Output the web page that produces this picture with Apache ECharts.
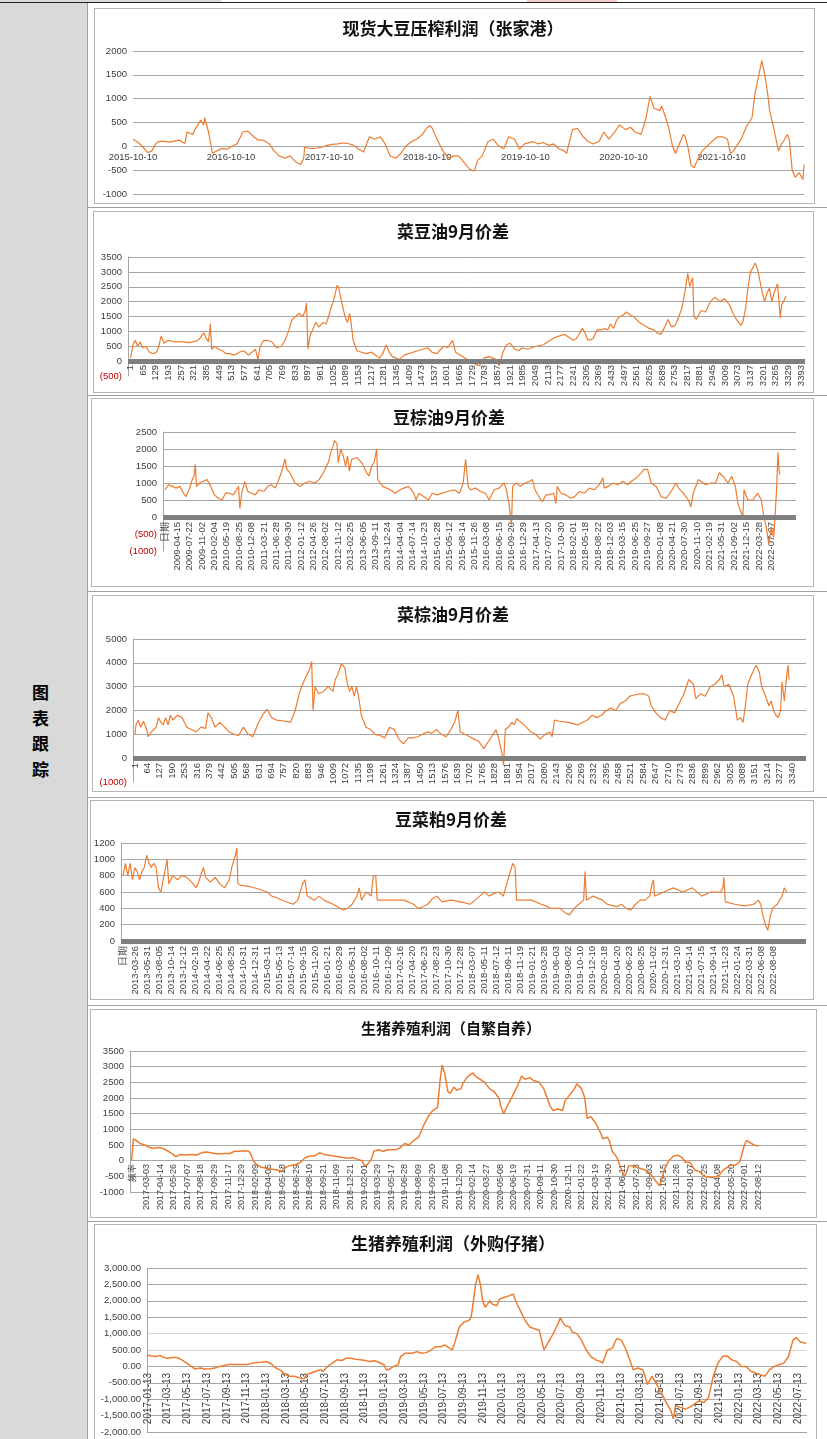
<!DOCTYPE html>
<html>
<head>
<meta charset="utf-8">
<script src="https://cdn.jsdelivr.net/npm/echarts@6/dist/echarts.min.js"></script>
<style>
html,body{margin:0;padding:0;background:#fff;}
#page{position:relative;width:827px;height:1439px;overflow:hidden;background:#fff;}
.abs{position:absolute;}
.side{left:0;top:3px;width:87px;height:1436px;background:#d9d9d9;}
.vline{left:87px;top:3px;width:1px;height:1436px;background:#a0a0a0;}
.hsep{left:87px;width:740px;height:1px;background:#a0a0a0;}
.box{border:1px solid #b4b4b4;background:#fff;box-sizing:border-box;}
.sidetext{left:32px;top:679px;width:17px;font:bold 17px "Noto Sans CJK SC";line-height:25.5px;word-break:break-all;color:#000;text-align:center;}
#chart{position:absolute;left:0;top:0;width:827px;height:1439px;}
</style>
</head>
<body>
<div id="page">
  <div class="abs" style="left:0;top:0;width:221px;height:2px;background:#d9d9d9;"></div>
  <div class="abs" style="left:527px;top:0;width:90px;height:2px;background:#f4cccc;"></div>
  <div class="abs" style="left:0;top:2px;width:827px;height:1px;background:#222;"></div>
  <div class="abs side"></div>
  <div class="abs vline"></div>
  <div class="abs sidetext">图表跟踪</div>
  <div class="abs box" style="left:94px;top:8px;width:721px;height:196px;"></div>
  <div class="abs hsep" style="top:207px;"></div>
  <div class="abs box" style="left:93px;top:211px;width:721px;height:182px;"></div>
  <div class="abs hsep" style="top:395px;"></div>
  <div class="abs box" style="left:91px;top:398px;width:723px;height:189px;"></div>
  <div class="abs hsep" style="top:591px;"></div>
  <div class="abs box" style="left:92px;top:595px;width:722px;height:197px;"></div>
  <div class="abs hsep" style="top:797px;"></div>
  <div class="abs box" style="left:90px;top:800px;width:724px;height:200px;"></div>
  <div class="abs hsep" style="top:1005px;"></div>
  <div class="abs box" style="left:90px;top:1009px;width:727px;height:209px;"></div>
  <div class="abs hsep" style="top:1221px;"></div>
  <div class="abs box" style="left:94px;top:1224px;width:723px;height:220px;"></div>
  <div id="chart"></div>
</div>
<script>
// ---------- titles ----------
const titles = ['现货大豆压榨利润（张家港）','菜豆油9月价差','豆棕油9月价差','菜棕油9月价差','豆菜粕9月价差','生猪养殖利润（自繁自养）','生猪养殖利润（外购仔猪）'];

// ---------- tick labels ----------
const c1Ticks = ['2015-10-10','2016-10-10','2017-10-10','2018-10-10','2019-10-10','2020-10-10','2021-10-10'];
const c2Ticks = [1,65,129,193,257,321,385,449,513,577,641,705,769,833,897,961,1025,1089,1153,1217,1281,1345,1409,1473,1537,1601,1665,1729,1793,1857,1921,1985,2049,2113,2177,2241,2305,2369,2433,2497,2561,2625,2689,2753,2817,2881,2945,3009,3073,3137,3201,3265,3329,3393];
const c3Ticks = ['日期','2009-04-15','2009-07-22','2009-11-02','2010-02-04','2010-05-19','2010-08-25','2010-12-08','2011-03-21','2011-06-28','2011-09-30','2012-01-12','2012-04-26','2012-08-02','2012-11-12','2013-02-25','2013-06-05','2013-09-11','2013-12-24','2014-04-04','2014-07-14','2014-10-23','2015-01-28','2015-05-12','2015-08-14','2015-11-26','2016-03-08','2016-06-15','2016-09-20','2016-12-29','2017-04-13','2017-07-20','2017-10-30','2018-02-01','2018-05-18','2018-08-22','2018-12-03','2019-03-15','2019-06-25','2019-09-27','2020-01-08','2020-04-21','2020-07-30','2020-11-10','2021-02-19','2021-05-31','2021-09-02','2021-12-15','2022-03-28','2022-07-07'];
const c4Ticks = [1,64,127,190,253,316,379,442,505,568,631,694,757,820,883,946,1009,1072,1135,1198,1261,1324,1387,1450,1513,1576,1639,1702,1765,1828,1891,1954,2017,2080,2143,2206,2269,2332,2395,2458,2521,2584,2647,2710,2773,2836,2899,2962,3025,3088,3151,3214,3277,3340];
const c5Ticks = ['日期','2013-03-26','2013-05-31','2013-08-05','2013-10-14','2013-12-12','2014-02-19','2014-04-22','2014-06-25','2014-08-25','2014-10-31','2014-12-31','2015-03-11','2015-05-13','2015-07-14','2015-09-15','2015-11-20','2016-01-21','2016-03-29','2016-05-31','2016-08-02','2016-10-11','2016-12-09','2017-02-16','2017-04-20','2017-06-23','2017-08-23','2017-10-30','2017-12-28','2018-03-07','2018-05-11','2018-07-12','2018-09-11','2018-11-19','2019-01-21','2019-03-28','2019-06-03','2019-08-02','2019-10-10','2019-12-10','2020-02-18','2020-04-20','2020-06-23','2020-08-25','2020-11-02','2020-12-31','2021-03-10','2021-05-14','2021-07-15','2021-09-14','2021-11-23','2022-01-24','2022-03-31','2022-06-08','2022-08-08'];
const c6Ticks = ['频率','2017-03-03','2017-04-14','2017-05-26','2017-07-07','2017-08-18','2017-09-29','2017-11-17','2017-12-29','2018-02-09','2018-04-05','2018-05-18','2018-06-29','2018-08-10','2018-09-21','2018-11-09','2018-12-21','2019-02-01','2019-03-29','2019-05-17','2019-06-28','2019-08-09','2019-09-20','2019-11-08','2019-12-20','2020-02-14','2020-03-27','2020-05-08','2020-06-19','2020-07-31','2020-09-11','2020-10-30','2020-12-11','2021-01-22','2021-03-19','2021-04-30','2021-06-11','2021-07-23','2021-09-03','2021-10-15','2021-11-26','2022-01-07','2022-02-25','2022-04-08','2022-05-20','2022-07-01','2022-08-12'];
const c7Ticks = ['2017-01-13','2017-03-13','2017-05-13','2017-07-13','2017-09-13','2017-11-13','2018-01-13','2018-03-13','2018-05-13','2018-07-13','2018-09-13','2018-11-13','2019-01-13','2019-03-13','2019-05-13','2019-07-13','2019-09-13','2019-11-13','2020-01-13','2020-03-13','2020-05-13','2020-07-13','2020-09-13','2020-11-13','2021-01-13','2021-03-13','2021-05-13','2021-07-13','2021-09-13','2021-11-13','2022-01-13','2022-03-13','2022-05-13','2022-07-13'];

// ---------- series values: [x position in axis units, value] ----------
// chart 1: x = years after 2015-10-10
const c1Data = [[0,150],[0.054,80],[0.108,-30],[0.15,-130],[0.19,-100],[0.23,50],[0.26,100],[0.31,110],[0.37,90],[0.42,110],[0.47,130],[0.53,60],[0.55,300],[0.61,250],[0.63,350],[0.69,550],[0.72,450],[0.73,600],[0.77,300],[0.81,-150],[0.85,-100],[0.9,-50],[0.96,-60],[1.01,0],[1.06,50],[1.12,300],[1.17,320],[1.23,200],[1.28,130],[1.33,130],[1.39,50],[1.44,-100],[1.49,-200],[1.55,-250],[1.6,-200],[1.66,-330],[1.71,-380],[1.74,-250],[1.75,-20],[1.82,-50],[1.87,-40],[1.92,-20],[1.98,20],[2.03,40],[2.09,50],[2.14,70],[2.19,60],[2.25,20],[2.3,-60],[2.35,-120],[2.41,200],[2.46,150],[2.52,200],[2.57,50],[2.62,-200],[2.68,-250],[2.73,-150],[2.78,0],[2.84,100],[2.89,150],[2.95,250],[3.0,400],[3.03,430],[3.05,380],[3.11,100],[3.16,-100],[3.22,-250],[3.27,-200],[3.32,-200],[3.38,-350],[3.43,-480],[3.48,-520],[3.51,-300],[3.56,-200],[3.62,100],[3.67,150],[3.73,0],[3.78,-50],[3.83,200],[3.89,150],[3.94,-60],[3.99,50],[4.08,100],[4.13,50],[4.18,80],[4.24,20],[4.29,50],[4.34,-50],[4.4,-100],[4.42,-150],[4.48,350],[4.53,380],[4.59,200],[4.64,100],[4.69,50],[4.75,100],[4.8,300],[4.85,150],[4.91,300],[4.96,450],[5.02,350],[5.07,400],[5.12,300],[5.18,250],[5.23,600],[5.27,1050],[5.31,800],[5.37,750],[5.39,850],[5.43,600],[5.46,400],[5.5,0],[5.53,-150],[5.58,100],[5.61,250],[5.63,200],[5.66,-50],[5.69,-400],[5.72,-450],[5.74,-350],[5.8,-100],[5.85,0],[5.9,100],[5.96,200],[6.01,200],[6.06,150],[6.09,-150],[6.12,-100],[6.15,0],[6.2,150],[6.25,400],[6.31,600],[6.34,1100],[6.38,1500],[6.41,1800],[6.44,1500],[6.47,1100],[6.49,750],[6.53,400],[6.55,200],[6.58,-100],[6.61,50],[6.63,100],[6.67,250],[6.69,150],[6.71,-300],[6.72,-500],[6.75,-650],[6.79,-550],[6.83,-700],[6.84,-380]];
// chart 2: x = row index
const c2Data = [[1,100],[13,550],[25,700],[37,500],[49,650],[61,450],[78,500],[96,300],[114,250],[132,300],[144,500],[156,850],[170,600],[192,700],[220,650],[263,650],[300,620],[335,680],[350,750],[371,950],[385,750],[395,650],[405,1250],[411,400],[426,500],[446,400],[466,350],[484,250],[502,250],[526,200],[550,300],[575,350],[597,200],[615,300],[633,400],[645,50],[657,500],[675,700],[693,700],[715,650],[740,450],[764,500],[782,700],[800,1000],[818,1400],[836,1500],[854,1600],[872,1500],[885,1700],[891,1950],[898,400],[910,900],[919,1000],[937,1300],[955,1150],[975,1300],[990,1250],[1003,1500],[1015,1800],[1027,2000],[1046,2550],[1055,2450],[1062,2200],[1075,1800],[1086,1500],[1098,1300],[1110,1600],[1118,1200],[1127,700],[1146,350],[1170,300],[1194,250],[1220,300],[1241,200],[1260,100],[1277,250],[1294,550],[1310,300],[1325,150],[1345,100],[1360,50],[1385,200],[1408,250],[1430,300],[1456,350],[1480,400],[1504,450],[1525,300],[1551,250],[1570,400],[1587,500],[1605,450],[1630,700],[1645,300],[1670,200],[1695,100],[1718,0],[1742,-100],[1766,-150],[1790,100],[1814,150],[1835,100],[1849,50],[1866,-150],[1885,300],[1903,550],[1921,600],[1945,400],[1965,350],[1981,450],[2010,400],[2052,500],[2090,550],[2124,700],[2150,800],[2171,850],[2195,900],[2219,800],[2240,700],[2255,750],[2270,900],[2286,1100],[2300,950],[2315,700],[2340,750],[2362,1050],[2385,1050],[2398,1100],[2415,1050],[2429,1250],[2445,1100],[2458,1350],[2475,1500],[2493,1550],[2510,1650],[2529,1550],[2545,1500],[2553,1450],[2575,1300],[2601,1200],[2625,1100],[2648,1050],[2665,950],[2684,900],[2700,1100],[2720,1400],[2738,1150],[2756,1200],[2775,1500],[2791,1800],[2805,2300],[2820,2950],[2830,2500],[2839,2700],[2845,2800],[2851,1500],[2863,1400],[2887,1700],[2910,1650],[2934,2000],[2958,2150],[2982,2000],[3005,2100],[3030,1900],[3050,1600],[3066,1400],[3089,1200],[3100,1350],[3113,1800],[3125,2500],[3137,3000],[3150,3150],[3161,3300],[3173,3100],[3185,2700],[3197,2300],[3209,2000],[3221,2300],[3233,2450],[3245,2000],[3257,2300],[3274,2600],[3288,1450],[3295,1900],[3305,2000],[3316,2200]];
// chart 3: x = tick-label slot
const c3Data = [[0,800],[0.3,950],[0.6,900],[0.9,850],[1.2,900],[1.5,700],[1.7,600],[2.0,850],[2.2,1100],[2.35,1200],[2.45,1550],[2.55,900],[2.8,1000],[3.1,1050],[3.4,1100],[3.7,900],[4.0,650],[4.3,550],[4.6,500],[4.9,700],[5.2,700],[5.5,650],[5.8,800],[5.95,900],[6.05,250],[6.2,700],[6.45,1050],[6.7,750],[7.0,700],[7.3,650],[7.6,800],[8.0,750],[8.3,900],[8.6,950],[8.9,850],[9.1,1000],[9.4,1300],[9.55,1500],[9.7,1700],[9.85,1400],[10.1,1300],[10.5,1000],[10.9,900],[11.3,1000],[11.7,1050],[12.1,1000],[12.45,1100],[12.8,1300],[13.2,1600],[13.4,1900],[13.6,2100],[13.7,2250],[13.9,2150],[14.0,1600],[14.2,2000],[14.4,1800],[14.6,1500],[14.75,1800],[14.9,1350],[15.1,1700],[15.5,1750],[15.9,1600],[16.3,1300],[16.5,1200],[16.7,1500],[16.9,1600],[17.1,2000],[17.2,1100],[17.6,900],[18.2,800],[18.6,700],[19.0,800],[19.3,850],[19.7,900],[20.1,700],[20.3,500],[20.5,700],[20.9,600],[21.3,500],[21.6,700],[22.0,650],[22.8,750],[23.4,800],[23.8,700],[24.1,1000],[24.3,1700],[24.5,900],[24.7,800],[25.1,850],[25.5,750],[25.9,700],[26.2,500],[26.6,800],[27.0,850],[27.4,1000],[27.6,800],[27.8,400],[28.0,-250],[28.1,900],[28.4,1000],[28.7,900],[29.1,1000],[29.5,1050],[29.7,1100],[29.9,800],[30.3,550],[30.5,450],[30.8,650],[31.0,650],[31.4,700],[31.6,400],[31.7,900],[32.0,700],[32.4,650],[32.8,550],[33.1,600],[33.5,750],[33.9,700],[34.3,850],[34.7,800],[35.1,950],[35.4,1150],[35.5,850],[35.8,900],[36.2,1000],[36.6,950],[37.0,1050],[37.4,950],[37.7,1050],[38.1,1150],[38.5,1300],[38.7,1400],[39.0,1400],[39.3,1000],[39.7,900],[40.1,600],[40.5,550],[40.9,750],[41.3,1000],[41.5,850],[41.9,700],[42.3,500],[42.5,300],[42.7,700],[43.1,1100],[43.3,1050],[43.7,950],[44.1,1000],[44.5,1000],[44.8,1300],[45.1,1200],[45.5,1000],[45.8,1200],[46.1,900],[46.3,400],[46.5,200],[46.7,0],[46.8,800],[47.1,500],[47.5,500],[47.9,700],[48.2,500],[48.4,0],[48.6,-300],[48.8,-800],[49.0,-300],[49.2,-600],[49.3,0],[49.4,600],[49.45,1000],[49.5,1500],[49.55,1900],[49.62,1400],[49.7,1250]];
// chart 4: x = row index
const c4Data = [[1,1000],[6,1400],[18,1600],[30,1300],[44,1550],[61,1200],[68,900],[85,1100],[109,1300],[121,1700],[133,1500],[145,1400],[157,1700],[169,1400],[181,1800],[193,1600],[217,1800],[241,1700],[264,1300],[288,1200],[312,1100],[336,1300],[360,1250],[372,1900],[389,1700],[408,1300],[432,1500],[456,1300],[480,1100],[504,1000],[528,950],[552,1300],[576,1000],[600,900],[624,1400],[648,1800],[672,2050],[696,1700],[720,1600],[767,1550],[791,1500],[815,2000],[839,2800],[863,3300],[887,3700],[899,4050],[906,2000],[916,3000],[935,2700],[959,2800],[983,3000],[1007,2800],[1019,3300],[1031,3500],[1050,3950],[1067,3800],[1079,3200],[1091,2800],[1103,3000],[1115,2600],[1127,3000],[1139,2500],[1151,1800],[1175,1300],[1199,1200],[1222,1000],[1246,950],[1270,850],[1294,1300],[1318,1200],[1342,800],[1366,600],[1390,850],[1414,850],[1438,900],[1462,1000],[1486,1100],[1510,1050],[1534,1200],[1558,1000],[1582,900],[1606,1200],[1625,1500],[1642,2000],[1654,1100],[1678,1000],[1702,900],[1725,800],[1749,700],[1773,400],[1797,700],[1821,1000],[1836,1200],[1850,800],[1864,300],[1874,-300],[1883,1200],[1898,1300],[1917,1500],[1929,1400],[1941,1650],[1965,1500],[1989,1300],[2013,1100],[2037,1000],[2061,800],[2085,1000],[2109,1100],[2121,900],[2133,1600],[2157,1550],[2204,1500],[2252,1400],[2300,1600],[2324,1800],[2348,1700],[2372,1800],[2396,2000],[2420,2100],[2444,2000],[2468,2300],[2492,2400],[2516,2600],[2540,2650],[2564,2700],[2588,2700],[2612,2600],[2624,2200],[2648,1900],[2671,1700],[2695,1600],[2719,2000],[2743,1900],[2767,2300],[2791,2700],[2815,3300],[2839,3100],[2851,2500],[2875,2700],[2899,2600],[2923,3000],[2947,3100],[2971,3300],[2983,3500],[2995,3000],[3019,3100],[3043,2600],[3062,1600],[3079,1700],[3091,1500],[3103,2200],[3115,3100],[3134,3500],[3158,3900],[3174,3600],[3186,3000],[3210,2500],[3222,2200],[3234,2400],[3246,2000],[3258,1800],[3270,1700],[3282,2000],[3289,3200],[3301,2400],[3313,3500],[3320,3900],[3325,3300]];
// chart 5: x = tick-label slot
const c5Data = [[0,800],[0.2,950],[0.39,800],[0.59,950],[0.78,750],[0.98,900],[1.18,850],[1.37,750],[1.57,850],[1.76,900],[1.96,1050],[2.16,950],[2.35,900],[2.55,950],[2.75,900],[2.94,650],[3.14,600],[3.33,750],[3.53,900],[3.65,1000],[3.8,700],[4.12,800],[4.51,750],[4.9,800],[5.29,780],[5.69,720],[6.08,650],[6.27,720],[6.67,900],[6.86,780],[7.25,720],[7.65,780],[8.04,700],[8.43,650],[8.82,750],[9.02,900],[9.22,1000],[9.33,1050],[9.45,1140],[9.53,700],[9.8,680],[10.39,670],[11.18,640],[11.96,600],[12.35,550],[12.75,530],[13.53,480],[14.12,450],[14.51,500],[14.9,700],[15.1,750],[15.29,550],[15.88,500],[16.27,550],[16.67,500],[17.45,450],[18.24,380],[18.63,400],[19.02,450],[19.41,550],[19.61,650],[19.8,500],[20.2,600],[20.59,550],[20.78,800],[20.98,800],[21.1,500],[21.76,500],[22.55,500],[23.33,500],[24.12,450],[24.51,400],[24.9,420],[25.29,450],[25.69,520],[26.08,550],[26.47,480],[27.25,500],[28.04,480],[28.82,450],[29.22,500],[29.61,550],[30.0,600],[30.39,550],[30.78,580],[31.18,600],[31.57,550],[31.96,750],[32.35,950],[32.55,900],[32.67,500],[33.14,500],[33.92,500],[34.71,450],[35.1,430],[35.49,400],[36.27,400],[36.67,350],[37.06,320],[37.45,400],[37.84,450],[38.24,500],[38.35,850],[38.47,500],[39.02,550],[39.8,500],[40.2,450],[40.98,420],[41.37,450],[41.76,400],[42.16,380],[42.55,450],[42.94,500],[43.33,500],[43.73,550],[43.92,700],[44.04,750],[44.12,550],[44.9,600],[45.69,650],[46.47,600],[47.25,650],[48.04,550],[48.82,600],[49.61,600],[49.8,650],[49.88,780],[50.0,480],[50.78,450],[51.57,430],[52.35,450],[52.75,500],[52.94,450],[53.14,300],[53.33,200],[53.53,130],[53.73,300],[53.92,400],[54.31,450],[54.71,550],[54.9,650],[55.1,600]];
// chart 6: x = tick-label slot
const c6Data = [[-0.1,0],[0.03,700],[0.17,650],[0.52,550],[0.87,500],[1.22,420],[1.56,400],[1.91,420],[2.26,380],[2.6,300],[2.95,200],[3.13,130],[3.3,150],[3.47,200],[3.99,180],[4.34,200],[4.69,180],[5.03,250],[5.38,280],[5.73,250],[6.08,220],[6.42,220],[6.77,230],[7.12,230],[7.47,300],[7.81,300],[8.16,320],[8.51,300],[8.68,200],[8.85,0],[9.03,-100],[9.38,-200],[9.9,-250],[10.59,-300],[10.94,-330],[11.28,-200],[11.63,-150],[11.98,-130],[12.33,-50],[12.67,100],[13.02,150],[13.37,150],[13.72,250],[14.06,200],[14.76,150],[15.45,100],[15.8,80],[16.15,100],[16.49,50],[16.84,0],[17.01,-150],[17.19,-150],[17.36,-50],[17.53,50],[17.71,300],[18.06,350],[18.4,300],[18.75,350],[19.27,350],[19.62,400],[19.97,550],[20.31,500],[20.66,650],[21.01,750],[21.35,1100],[21.7,1400],[22.05,1600],[22.4,1700],[22.57,2500],[22.74,3050],[22.92,2800],[23.16,2200],[23.33,2150],[23.61,2350],[23.78,2250],[24.13,2300],[24.31,2500],[24.65,2700],[25.0,2800],[25.17,2700],[25.52,2600],[25.87,2500],[26.22,2300],[26.56,2200],[26.91,2000],[27.08,1700],[27.26,1500],[27.6,1800],[27.95,2100],[28.3,2400],[28.58,2700],[28.82,2600],[29.17,2650],[29.51,2550],[29.86,2500],[30.21,2300],[30.38,2100],[30.66,1750],[30.9,1600],[31.25,1650],[31.6,1600],[31.77,1900],[32.12,2100],[32.47,2300],[32.64,2450],[32.99,2300],[33.23,2000],[33.4,1350],[33.68,1400],[34.03,1200],[34.38,900],[34.55,700],[34.9,750],[35.07,600],[35.24,300],[35.42,200],[35.59,100],[35.94,-300],[36.15,-500],[36.28,-400],[36.46,-150],[36.81,-180],[37.33,-250],[37.67,-300],[38.02,-400],[38.37,-600],[38.72,-800],[38.89,-600],[39.06,-300],[39.41,0],[39.76,150],[40.1,170],[40.38,100],[40.63,-50],[40.97,-50],[41.32,-300],[41.67,-350],[42.01,-500],[42.53,-540],[43.06,-500],[43.4,-300],[43.92,-150],[44.27,-150],[44.62,-50],[44.97,500],[45.14,650],[45.31,600],[45.66,500],[46.01,470]];
// chart 7: x = tick-label slot
const c7Data = [[-0.05,350],[0.17,320],[0.41,300],[0.64,330],[0.76,280],[1.0,250],[1.24,270],[1.48,270],[1.72,200],[1.96,100],[2.2,0],[2.39,-80],[2.67,-50],[2.91,-80],[3.15,-70],[3.39,-50],[3.63,0],[3.87,30],[4.1,60],[4.58,60],[5.06,60],[5.3,100],[5.54,120],[5.78,130],[6.01,150],[6.25,80],[6.49,-50],[6.73,-120],[6.97,-250],[7.21,-300],[7.45,-300],[7.68,-350],[7.92,-380],[8.04,-250],[8.28,-200],[8.52,-150],[8.76,-100],[8.88,-150],[9.12,0],[9.36,100],[9.59,200],[9.83,180],[10.07,250],[10.31,250],[10.55,220],[10.79,200],[11.03,180],[11.26,150],[11.5,170],[11.74,120],[11.98,50],[12.1,-100],[12.22,-100],[12.46,0],[12.7,50],[12.82,300],[13.05,400],[13.41,400],[13.65,450],[13.89,400],[14.13,420],[14.37,500],[14.61,600],[14.84,600],[15.08,650],[15.32,550],[15.44,500],[15.56,700],[15.8,1200],[16.04,1350],[16.28,1400],[16.4,1500],[16.52,2000],[16.63,2500],[16.75,2800],[16.87,2500],[16.99,2000],[17.11,1800],[17.23,1900],[17.35,2000],[17.47,1900],[17.71,1850],[17.83,2050],[18.07,2100],[18.31,2150],[18.54,2200],[18.66,2000],[18.9,1700],[19.14,1400],[19.38,1200],[19.62,1150],[19.86,1100],[19.98,800],[20.1,500],[20.33,750],[20.57,1000],[20.81,1300],[20.93,1480],[21.05,1350],[21.17,1250],[21.41,1200],[21.53,1050],[21.77,1000],[22.0,800],[22.24,500],[22.48,300],[22.72,200],[22.96,150],[23.08,100],[23.32,500],[23.56,550],[23.79,850],[24.03,800],[24.27,500],[24.51,100],[24.63,-100],[24.87,-50],[25.11,-100],[25.23,-300],[25.35,-550],[25.58,-300],[25.82,-550],[26.06,-800],[26.3,-1100],[26.54,-1350],[26.66,-1600],[26.78,-1200],[27.02,-1250],[27.26,-1300],[27.49,-1250],[27.73,-1150],[27.97,-1050],[28.21,-1100],[28.45,-950],[28.69,-300],[28.93,100],[29.16,300],[29.4,320],[29.64,200],[29.88,150],[30.12,0],[30.36,0],[30.6,-150],[30.84,-200],[31.07,-250],[31.31,-300],[31.55,-100],[31.79,0],[32.03,50],[32.27,100],[32.51,300],[32.74,800],[32.91,880],[33.1,750],[33.41,700]];

// ---------- layout / styling ----------
const FONT = '"Liberation Sans", Arial, sans-serif';
const ORANGE = '#ED7D31';
const GRID = '#a6a6a6';
const CLEAR = 'rgba(0,0,0,0)';
const LABEL = '#404040';

const grids = [
  {left:133, right:23, top:51,   height:143},
  {left:128, right:22, top:257,  height:119},
  {left:163, right:31, top:432,  height:119},
  {left:133, right:21, top:639,  height:143},
  {left:121, right:21, top:843,  height:98},
  {left:130, right:21, top:1051, height:141},
  {left:147, right:20, top:1268, height:164}
];
const titlePos = [[453,29,17],[453,232,17],[449,418,17],[453,615,17],[451,820,17],[451,1028,15],[453,1244,17]];

const idx = arr => arr.map((_, i) => i);
const plain = v => String(v);
const paren = v => (v < 0 ? '(' + (-v) + ')' : String(v));
const money = v => (v < 0 ? '-' : '') + Math.abs(v).toFixed(2).replace(/\B(?=(\d{3})+(?!\d))/g, ',');
const redNeg = v => { const s = String(v); return (s.charAt(0) === '-' || s.charAt(0) === '(') ? '#c00000' : LABEL; };

// labels hang from the zero line: margin measured from the grid bottom
function xa(gi, o) {
  return {
    type: 'value', gridIndex: gi, min: o.min, max: o.max,
    splitLine: {show: false}, axisTick: {show: false},
    axisLine: {show: false, onZero: false},
    axisLabel: {customValues: o.values, formatter: o.fmt, rotate: o.rotate, fontSize: o.fs, color: LABEL,
      margin: o.margin, fontFamily: FONT, showMinLabel: true, showMaxLabel: true, hideOverlap: false}
  };
}
function ya(gi, o) {
  return {
    type: 'value', gridIndex: gi, min: o.min, max: o.max, interval: o.interval,
    axisLine: {show: o.line, onZero: false, lineStyle: {color: GRID, width: 1}},
    axisTick: {show: false},
    splitLine: {show: true, lineStyle: {color: o.split || GRID, width: 1}},
    axisLabel: {formatter: o.fmt || plain, color: o.color || LABEL, fontSize: 9.5, margin: 6, fontFamily: FONT}
  };
}

const xAxis = [
  xa(0, {min: 0, max: 6.84, values: idx(c1Ticks), fmt: v => c1Ticks[Math.round(v)], rotate: 0, fs: 9.5, margin: -42}),
  xa(1, {min: -12, max: 3413, values: c2Ticks, fmt: plain, rotate: 90, fs: 9.5, margin: -11}),
  xa(2, {min: -0.16, max: 51, values: idx(c3Ticks), fmt: v => c3Ticks[Math.round(v)], rotate: 90, fs: 9.5, margin: -29}),
  xa(3, {min: -9, max: 3411, values: c4Ticks, fmt: plain, rotate: 90, fs: 9.5, margin: -19}),
  xa(4, {min: -0.17, max: 56.7, values: idx(c5Ticks), fmt: v => c5Ticks[Math.round(v)], rotate: 90, fs: 9.5, margin: 5}),
  xa(5, {min: -0.22, max: 49.5, values: idx(c6Ticks), fmt: v => c6Ticks[Math.round(v)], rotate: 90, fs: 9, margin: -28}),
  xa(6, {min: -0.05, max: 33.45, values: idx(c7Ticks), fmt: v => c7Ticks[Math.round(v)], rotate: 90, fs: 10, margin: -59})
];
const yAxis = [
  ya(0, {min: -1000, max: 2000, interval: 500, line: false}),
  ya(1, {min: -500, max: 3500, interval: 500, line: true, fmt: paren, color: redNeg, split: [CLEAR, GRID, GRID, GRID, GRID, GRID, GRID, GRID, GRID]}),
  ya(2, {min: -1000, max: 2500, interval: 500, line: true, fmt: paren, color: redNeg, split: [CLEAR, CLEAR, GRID, GRID, GRID, GRID, GRID, GRID]}),
  ya(3, {min: -1000, max: 5000, interval: 1000, line: true, fmt: paren, color: redNeg, split: [CLEAR, GRID, GRID, GRID, GRID, GRID, GRID]}),
  ya(4, {min: 0, max: 1200, interval: 200, line: true}),
  ya(5, {min: -1000, max: 3500, interval: 500, line: true}),
  ya(6, {min: -2000, max: 3000, interval: 500, line: true, fmt: money,
        split: [GRID, GRID, GRID, GRID, GRID, '#d4d4d4', '#d4d4d4', GRID, GRID, GRID, GRID]})
];

const hasBar = [false, true, true, true, true, false, false];
const datasets = [c1Data, c2Data, c3Data, c4Data, c5Data, c6Data, c7Data];
const series = datasets.map((d, i) => {
  const s = {
    type: 'line', xAxisIndex: i, yAxisIndex: i, data: d, showSymbol: false, symbol: 'none',
    lineStyle: {color: ORANGE, width: i >= 5 ? 1.5 : 1.2}, silent: true, animation: false
  };
  if (hasBar[i]) {
    s.markLine = {silent: true, symbol: 'none', label: {show: false}, animation: false,
      lineStyle: {color: '#7f7f7f', width: 5, type: 'solid'}, data: [{yAxis: 0}]};
  }
  return s;
});

const graphic = titles.map((t, i) => ({
  type: 'text', x: titlePos[i][0], y: titlePos[i][1], silent: true,
  style: {text: t, fill: '#111', font: 'bold ' + titlePos[i][2] + 'px "Noto Sans CJK SC"',
          align: 'center', verticalAlign: 'middle', textAlign: 'center', textVerticalAlign: 'middle'}
}));

const chart = echarts.init(document.getElementById('chart'), null, {renderer: 'canvas'});
chart.setOption({
  animation: false,
  backgroundColor: 'transparent',
  grid: grids.map(g => Object.assign({outerBoundsMode: 'none', containLabel: false}, g)),
  xAxis: xAxis,
  yAxis: yAxis,
  series: series,
  graphic: graphic
});
</script>
</body>
</html>
